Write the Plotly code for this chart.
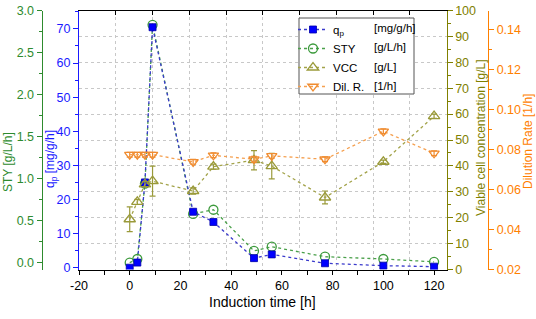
import plotly.graph_objects as go

W, H = 536, 319


def fx(p):
    return p / W


def fy(p):
    return 1 - p / H


# ---------------- data ----------------
time_h = [0, 3, 6, 9, 25, 33, 49, 56, 77, 100, 120]
qp = [0.0, 1.5, 25.0, 70.5, 16.4, 13.4, 2.8, 3.9, 1.3, 0.6, 0.3]
sty = [0.0, 0.044, 0.94, 2.83, 0.58, 0.63, 0.14, 0.19, 0.071, 0.044, 0.01]
vcc = [19.4, 26.1, 32.9, 34.1, 30.3, 39.7, 42.2, 39.9, 27.8, 41.6, 59.2]
vcc_err = [4.8, 1.0, 1.0, 5.8, 1.2, 1.0, 3.7, 4.9, 2.5, 0.6, 0.8]
dil = [0.0775, 0.0775, 0.0775, 0.0775, 0.0739, 0.0772, 0.0752, 0.0769, 0.0752, 0.0892, 0.0782]
dil_err = [0.0012, 0.0012, 0.0012, 0.0012, 0.0012, 0.0012, 0.0015, 0.0012, 0.0012, 0.0012, 0.0012]

x_tickvals = [-20, 0, 20, 40, 60, 80, 100, 120]
x_ticktext = ["-20", "0", "20", "40", "60", "80", "100", "120"]

legend_units = ["[mg/g/h]", "[g/L/h]", "[g/L]", "[1/h]"]

# ---------------- styles ----------------
FONT = "Arial, Liberation Sans, sans-serif"
C_BLUE = "#1a1aff"
C_GREEN = "#2e8b2e"
C_OLIVE = "#808000"
C_ORANGE = "#ff8000"
GRID = "#c8c8c8"

fig = go.Figure()

fig.add_trace(go.Scatter(
    x=time_h, y=sty, name="STY", yaxis="y", legendrank=2,
    mode="lines+markers",
    line=dict(color="#4aa04a", dash="dot", width=1.3),
    marker=dict(symbol="circle-open", size=9, color="#3c9a3c", line=dict(width=1.3)),
))
fig.add_trace(go.Scatter(
    x=time_h, y=qp, name="q<sub>p</sub>", yaxis="y2", legendrank=1,
    mode="lines+markers",
    line=dict(color="#3a3acc", dash="dot", width=1.3),
    marker=dict(symbol="square", size=7, color="#0000ff", line=dict(width=0.8, color="#0000aa")),
))
fig.add_trace(go.Scatter(
    x=time_h, y=vcc, name="VCC", yaxis="y3", legendrank=3,
    mode="lines+markers",
    line=dict(color="#a3a34a", dash="dot", width=1.3),
    marker=dict(symbol="triangle-up-open", size=10, color="#9a9a3a", line=dict(width=1.3)),
    error_y=dict(type="data", array=vcc_err, visible=True, color="#9a9a3a", thickness=1.2, width=3),
))
fig.add_trace(go.Scatter(
    x=time_h, y=dil, name="Dil. R.", yaxis="y4", legendrank=4,
    mode="lines+markers",
    line=dict(color="#f5a050", dash="dot", width=1.3),
    marker=dict(symbol="triangle-down-open", size=9, color="#f08c30", line=dict(width=1.3)),
    error_y=dict(type="data", array=dil_err, visible=True, color="#f08c30", thickness=1.2, width=3),
))
# empty trace so the top (grid) axis is rendered
fig.add_trace(go.Scatter(x=[], y=[], xaxis="x2", yaxis="y", showlegend=False, hoverinfo="skip"))

XD = [fx(79), fx(446.5)]
YD = [fy(269.5), fy(10.5)]

fig.update_layout(
    width=W, height=H,
    margin=dict(l=0, r=0, t=0, b=0),
    paper_bgcolor="white", plot_bgcolor="white",
    font=dict(family=FONT, size=12, color="black"),
    showlegend=True,
    legend=dict(
        x=fx(293), y=fy(15), xanchor="left", yanchor="top",
        bgcolor="rgba(0,0,0,0)", borderwidth=0,
        font=dict(family=FONT, size=11.5, color="black"),
        traceorder="normal", tracegroupgap=0,
    ),
    xaxis=dict(
        domain=XD, range=[-20, 124.9], anchor="y",
        showline=True, linecolor="black", linewidth=1.3,
        ticks="outside", ticklen=4, tickcolor="black", tickwidth=1.2,
        tickmode="array", tickvals=x_tickvals, ticktext=x_ticktext,
        showgrid=False, zeroline=False,
        tickfont=dict(family=FONT, size=12.5, color="black"),
        minor=dict(tick0=0, dtick=10, ticks="outside", ticklen=4, tickcolor="black", tickwidth=1.2, showgrid=False),
        automargin=False,
    ),
    xaxis2=dict(
        overlaying="x", side="top", anchor="y", range=[0, 10],
        showline=True, linecolor="black", linewidth=1.3,
        ticks="inside", ticklen=4, tickcolor="black", tickwidth=1.2,
        tick0=0, dtick=1, showticklabels=False,
        showgrid=True, gridcolor=GRID, griddash="dot", gridwidth=1,
        zeroline=False, automargin=False,
    ),
    yaxis=dict(  # STY
        domain=YD, anchor="free", position=fx(41.7), side="left",
        range=[-0.081, 3.0],
        showline=True, linecolor=C_GREEN, linewidth=1.3,
        ticks="outside", ticklen=5, tickcolor=C_GREEN, tickwidth=1.2,
        tick0=0, dtick=0.5, tickformat=".1f",
        tickfont=dict(family=FONT, size=12.5, color=C_GREEN),
        minor=dict(dtick=0.25, ticks="outside", ticklen=3, tickcolor=C_GREEN, tickwidth=1.2),
        showgrid=False, zeroline=False, automargin=False,
    ),
    yaxis2=dict(  # qp
        domain=YD, overlaying="y", anchor="x", side="left",
        range=[-0.53, 75.4],
        showline=True, linecolor=C_BLUE, linewidth=1.3,
        ticks="outside", ticklen=5, tickcolor=C_BLUE, tickwidth=1.2,
        tick0=0, dtick=10,
        tickfont=dict(family=FONT, size=12.5, color=C_BLUE),
        minor=dict(dtick=5, ticks="outside", ticklen=3, tickcolor=C_BLUE, tickwidth=1.2),
        showgrid=False, zeroline=False, automargin=False,
    ),
    yaxis3=dict(  # VCC
        domain=YD, overlaying="y", anchor="x", side="right",
        range=[0, 100],
        showline=True, linecolor=C_OLIVE, linewidth=1.3,
        ticks="outside", ticklen=5, tickcolor=C_OLIVE, tickwidth=1.2,
        tick0=0, dtick=10,
        tickfont=dict(family=FONT, size=12.5, color=C_OLIVE),
        minor=dict(dtick=5, ticks="outside", ticklen=3, tickcolor=C_OLIVE, tickwidth=1.2),
        showgrid=True, gridcolor=GRID, griddash="dot", gridwidth=1,
        zeroline=False, automargin=False,
    ),
    yaxis4=dict(  # Dilution rate
        domain=YD, overlaying="y", anchor="free", position=fx(488), side="right",
        range=[0.02, 0.1497],
        showline=True, linecolor=C_ORANGE, linewidth=1.3,
        ticks="outside", ticklen=5, tickcolor=C_ORANGE, tickwidth=1.2,
        tick0=0.02, dtick=0.02, tickformat=".2f",
        tickfont=dict(family=FONT, size=12.5, color=C_ORANGE),
        minor=dict(dtick=0.01, ticks="outside", ticklen=3, tickcolor=C_ORANGE, tickwidth=1.2),
        showgrid=False, zeroline=False, automargin=False,
    ),
)

# legend frame
fig.add_shape(type="rect", xref="paper", yref="paper",
              x0=fx(299), x1=fx(414), y0=fy(18), y1=fy(94),
              line=dict(color="#555555", width=1), fillcolor="white", layer="above")

# legend units
unit_rows = [28.5, 47.5, 66.5, 85.5]
for u, r in zip(legend_units, unit_rows):
    fig.add_annotation(x=fx(372), y=fy(r), xref="paper", yref="paper", text=u,
                       showarrow=False, xanchor="left", yanchor="middle",
                       font=dict(family=FONT, size=11.5, color="black"))

# axis titles
title_common = dict(xref="paper", yref="paper", showarrow=False,
                    xanchor="center", yanchor="middle")
fig.add_annotation(x=fx(262.5), y=fy(302), text="Induction time [h]",
                   font=dict(family=FONT, size=14, color="black"), **title_common)
fig.add_annotation(x=fx(8), y=fy(162), textangle=-90, text="STY [g/L/h]",
                   font=dict(family=FONT, size=12, color=C_GREEN), **title_common)
fig.add_annotation(x=fx(51), y=fy(159), textangle=-90, text="q<sub>p</sub> [mg/g/h]",
                   font=dict(family=FONT, size=12, color=C_BLUE), **title_common)
fig.add_annotation(x=fx(481), y=fy(138), textangle=-90, text="Viable cell concentration [g/L]",
                   font=dict(family=FONT, size=12, color=C_OLIVE), **title_common)
fig.add_annotation(x=fx(528), y=fy(142), textangle=-90, text="Dilution Rate [1/h]",
                   font=dict(family=FONT, size=12, color=C_ORANGE), **title_common)

fig.write_html("out.html",
               config={"displayModeBar": False},
               post_script="document.body.style.margin='0';document.body.style.overflow='hidden';")
